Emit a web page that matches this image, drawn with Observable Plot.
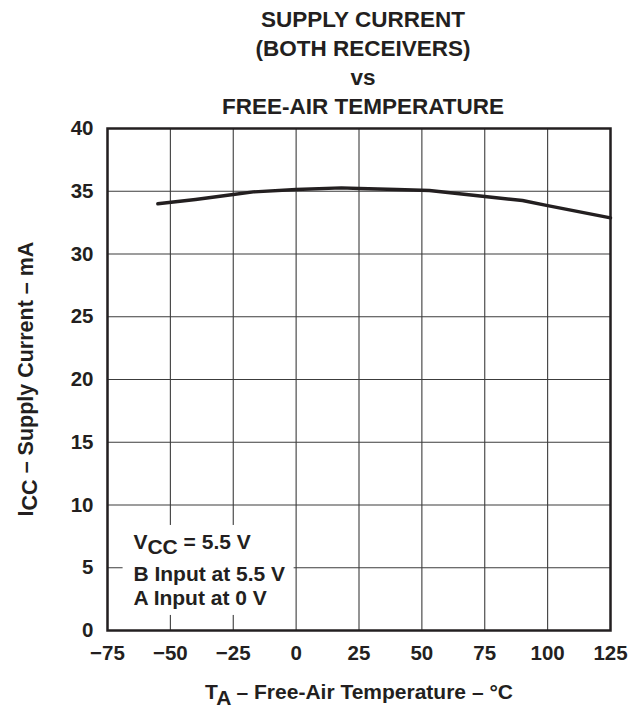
<!DOCTYPE html>
<html>
<head>
<meta charset="utf-8">
<script src="https://cdn.jsdelivr.net/npm/d3@7"></script>
<script src="https://cdn.jsdelivr.net/npm/@observablehq/plot@0.6"></script>
<style>
  html, body { margin: 0; padding: 0; background: #fff; }
  #wrap { width: 639px; height: 708px; position: relative; overflow: hidden;
          font-family: "Liberation Sans", Arial, Helvetica, sans-serif; color: #231f20; }
  #title { width: 639px; box-sizing: border-box; padding-left: 87px; padding-top: 5px;
           text-align: center; font-weight: bold; font-size: 22.5px; line-height: 29px; height: 121px; }
  #title div { white-space: nowrap; }
</style>
</head>
<body>
<div id="wrap">
  <div id="title">
    <div>SUPPLY CURRENT</div>
    <div>(BOTH RECEIVERS)</div>
    <div>vs</div>
    <div>FREE-AIR TEMPERATURE</div>
  </div>
  <div id="chart"></div>
</div>
<script>
// ---- data ----
const temps   = [-55, -40, -25, -17, 0, 18, 25, 40, 53, 75, 90, 100, 125];
const current = [34.0, 34.34, 34.74, 34.95, 35.14, 35.27, 35.22, 35.14, 35.06, 34.58, 34.26, 33.86, 32.88];
const xTicks  = [-75, -50, -25, 0, 25, 50, 75, 100, 125];
const yTicks  = [0, 5, 10, 15, 20, 25, 30, 35, 40];
const noteTexts = ["VCC = 5.5 V", "B Input at 5.5 V", "A Input at 0 V"];
const noteX = [-64.7, -64.7, -64.7];
const noteY = [7.0, 4.49, 2.58];
const noteBox = [{x1: -68.8, x2: -0.8, y1: 1.2, y2: 8.37}];

const rows = temps.map((t, i) => ({t, i: current[i]}));
const notes = noteTexts.map((text, k) => ({text, x: noteX[k], y: noteY[k]}));
const ink = "#231f20";
const fmt = d => d < 0 ? "\u2212" + Math.abs(d) : String(d);

const chart = Plot.plot({
  width: 639,
  height: 587,
  marginTop: 7,
  marginBottom: 78,
  marginLeft: 107,
  marginRight: 29,
  style: {fontFamily: "'Liberation Sans', Arial, sans-serif", fontWeight: "bold", fontSize: "20px", color: ink, background: "white", overflow: "visible"},
  x: {domain: [-75, 125]},
  y: {domain: [0, 40]},
  marks: [
    Plot.gridX(xTicks, {stroke: "#3c3c3c", strokeOpacity: 1, strokeWidth: 1.1}),
    Plot.gridY(yTicks, {stroke: "#3c3c3c", strokeOpacity: 1, strokeWidth: 1.1}),
    Plot.rect(noteBox, {x1: "x1", x2: "x2", y1: "y1", y2: "y2", fill: "white"}),
    Plot.line(rows, {x: "t", y: "i", stroke: ink, strokeWidth: 3.4, strokeLinejoin: "round", strokeLinecap: "round"}),
    Plot.frame({stroke: ink, strokeWidth: 2.5}),
    Plot.axisX(xTicks, {tickSize: 0, tickPadding: 15, fontSize: 20.5, fontWeight: "bold", tickFormat: fmt, label: null, fill: ink}),
    Plot.axisY(yTicks, {tickSize: 0, tickPadding: 14, fontSize: 20.5, fontWeight: "bold", label: null, fill: ink}),
    Plot.text(notes, {x: "x", y: "y", text: "text", textAnchor: "start", fontSize: 21, fontWeight: "bold", fill: ink})
  ]
});
document.getElementById("chart").appendChild(chart);

const svg = d3.select(chart);
// subscript in the VCC note
svg.selectAll("text").filter(function () { return this.textContent === "VCC = 5.5 V"; })
  .each(function () {
    const t = d3.select(this);
    t.text(null);
    t.append("tspan").text("V");
    t.append("tspan").attr("dy", 5).text("CC");
    t.append("tspan").attr("dy", -5).text(" = 5.5 V");
  });

// axis titles with subscripts
const xl = svg.append("text")
  .attr("x", 359).attr("y", 578)
  .attr("text-anchor", "middle")
  .attr("fill", ink).attr("font-size", 21).attr("font-weight", "bold");
xl.append("tspan").text("T");
xl.append("tspan").attr("dy", 6).text("A");
xl.append("tspan").attr("dy", -6).text(" \u2013 Free-Air Temperature \u2013 \u00B0C");

const yl = svg.append("text")
  .attr("transform", "translate(33,258) rotate(-90)")
  .attr("text-anchor", "middle")
  .attr("fill", ink).attr("font-size", 21.5).attr("font-weight", "bold");
yl.append("tspan").text("I");
yl.append("tspan").attr("dy", 4).text("CC");
yl.append("tspan").attr("dy", -4).text(" \u2013 Supply Current \u2013 mA");
</script>
</body>
</html>
